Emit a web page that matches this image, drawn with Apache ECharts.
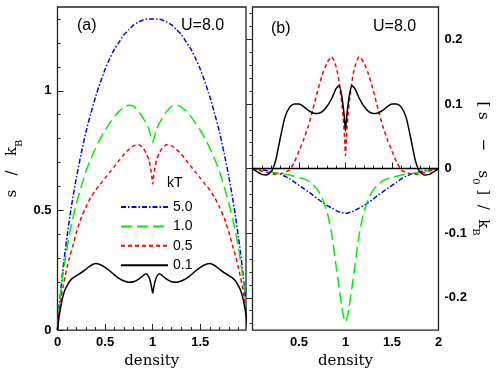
<!DOCTYPE html>
<html>
<head>
<meta charset="utf-8">
<script src="https://cdn.jsdelivr.net/npm/echarts@6/dist/echarts.min.js"></script>
<style>
html, body { margin: 0; padding: 0; background: #fff; }
#chart { width: 500px; height: 374px; }
</style>
</head>
<body>
<div id="chart"></div>
<script>
// ---- panel (a): s / kB vs density ----
const densityA = [0, 0.01, 0.02, 0.04, 0.06, 0.08, 0.1, 0.13, 0.16, 0.2, 0.25, 0.3, 0.35, 0.4, 0.45, 0.5,
  0.55, 0.6, 0.65, 0.7, 0.75, 0.8, 0.85, 0.9, 0.93, 0.96, 0.98, 0.99, 1.0,
  1.01, 1.02, 1.04, 1.07, 1.1, 1.15, 1.2, 1.25, 1.3, 1.35, 1.4, 1.45, 1.5, 1.55, 1.6, 1.65,
  1.7, 1.75, 1.8, 1.84, 1.87, 1.9, 1.92, 1.94, 1.96, 1.98, 1.99, 2.0];
const sA_50 = [0, 0.06, 0.11, 0.19, 0.265, 0.33, 0.39, 0.475, 0.55, 0.64, 0.74, 0.83, 0.905, 0.975, 1.035, 1.09,
  1.135, 1.175, 1.205, 1.235, 1.255, 1.275, 1.287, 1.296, 1.299, 1.30, 1.30, 1.30, 1.30,
  1.30, 1.30, 1.30, 1.299, 1.296, 1.287, 1.275, 1.255, 1.235, 1.205, 1.175, 1.135, 1.09, 1.035, 0.975, 0.905,
  0.83, 0.74, 0.64, 0.55, 0.475, 0.39, 0.33, 0.265, 0.19, 0.11, 0.06, 0];
const sA_10 = [0, 0.055, 0.10, 0.175, 0.24, 0.295, 0.345, 0.41, 0.465, 0.53, 0.60, 0.665, 0.715, 0.76, 0.80, 0.835,
  0.865, 0.893, 0.915, 0.933, 0.94, 0.935, 0.915, 0.885, 0.865, 0.84, 0.81, 0.797, 0.785,
  0.797, 0.81, 0.84, 0.865, 0.885, 0.915, 0.935, 0.94, 0.933, 0.915, 0.893, 0.865, 0.835, 0.80, 0.76, 0.715,
  0.665, 0.60, 0.53, 0.465, 0.41, 0.345, 0.295, 0.24, 0.175, 0.10, 0.055, 0];
const sA_05 = [0, 0.045, 0.08, 0.14, 0.185, 0.225, 0.26, 0.31, 0.35, 0.41, 0.47, 0.515, 0.555, 0.585, 0.61, 0.635,
  0.66, 0.685, 0.71, 0.735, 0.755, 0.77, 0.775, 0.76, 0.74, 0.71, 0.67, 0.645, 0.61,
  0.645, 0.67, 0.71, 0.74, 0.76, 0.775, 0.77, 0.755, 0.735, 0.71, 0.685, 0.66, 0.635, 0.61, 0.585, 0.555,
  0.515, 0.47, 0.41, 0.35, 0.31, 0.26, 0.225, 0.185, 0.14, 0.08, 0.045, 0];
const sA_01 = [0, 0.035, 0.065, 0.11, 0.145, 0.17, 0.185, 0.205, 0.217, 0.228, 0.24, 0.255, 0.27, 0.278, 0.273, 0.262,
  0.247, 0.23, 0.215, 0.205, 0.20, 0.202, 0.212, 0.228, 0.235, 0.222, 0.195, 0.175, 0.155,
  0.175, 0.195, 0.222, 0.235, 0.228, 0.212, 0.202, 0.20, 0.205, 0.215, 0.23, 0.247, 0.262, 0.273, 0.278, 0.27,
  0.255, 0.24, 0.228, 0.217, 0.205, 0.185, 0.17, 0.145, 0.11, 0.065, 0.035, 0];

// ---- panel (b): [s - s0] / kB vs density ----
const densityB = [0, 0.05, 0.1, 0.15, 0.2, 0.22, 0.25, 0.3, 0.35, 0.4, 0.45, 0.5, 0.55, 0.6, 0.65, 0.7, 0.75,
  0.8, 0.85, 0.9, 0.93, 0.96, 0.98, 0.99, 1.0,
  1.01, 1.02, 1.04, 1.07, 1.1, 1.15, 1.2, 1.25, 1.3, 1.35, 1.4, 1.45, 1.5, 1.55, 1.6, 1.65, 1.7, 1.75,
  1.78, 1.8, 1.85, 1.9, 1.95, 2.0];
const dsB_50 = [0, -0.001, -0.002, -0.003, -0.005, -0.006, -0.007, -0.009, -0.012, -0.016, -0.021, -0.026, -0.031,
  -0.036, -0.041, -0.047, -0.052, -0.057, -0.061, -0.065, -0.067, -0.068, -0.069, -0.069, -0.069,
  -0.069, -0.069, -0.068, -0.067, -0.065, -0.061, -0.057, -0.052, -0.047, -0.041, -0.036, -0.031, -0.026,
  -0.021, -0.016, -0.012, -0.009, -0.007, -0.006, -0.005, -0.003, -0.002, -0.001, 0];
const dsB_10 = [0, -0.001, -0.003, -0.004, -0.005, -0.006, -0.007, -0.008, -0.009, -0.01, -0.012, -0.014, -0.016,
  -0.019, -0.025, -0.033, -0.046, -0.066, -0.1, -0.152, -0.183, -0.213, -0.23, -0.235, -0.238,
  -0.235, -0.23, -0.213, -0.183, -0.152, -0.1, -0.066, -0.046, -0.033, -0.025, -0.019, -0.016, -0.014,
  -0.012, -0.01, -0.009, -0.008, -0.007, -0.006, -0.005, -0.004, -0.003, -0.001, 0];
const dsB_05 = [0, -0.002, -0.004, -0.006, -0.008, -0.009, -0.009, -0.008, -0.006, -0.002, 0.01, 0.027, 0.045,
  0.066, 0.092, 0.12, 0.145, 0.163, 0.173, 0.157, 0.135, 0.102, 0.07, 0.048, 0.02,
  0.048, 0.07, 0.102, 0.135, 0.157, 0.173, 0.163, 0.145, 0.12, 0.092, 0.066, 0.045, 0.027,
  0.01, -0.002, -0.006, -0.008, -0.009, -0.009, -0.008, -0.006, -0.004, -0.002, 0];
const dsB_01 = [0, -0.005, -0.009, -0.01, -0.005, 0, 0.013, 0.048, 0.08, 0.095, 0.1, 0.1, 0.096,
  0.09, 0.086, 0.085, 0.088, 0.096, 0.108, 0.124, 0.128, 0.112, 0.09, 0.075, 0.058,
  0.075, 0.09, 0.112, 0.128, 0.124, 0.108, 0.096, 0.088, 0.085, 0.086, 0.09, 0.096, 0.1,
  0.1, 0.095, 0.08, 0.048, 0.013, 0, -0.005, -0.01, -0.009, -0.005, 0];

const kTNames = ['5.0', '1.0', '0.5', '0.1'];

// ticks
const aXMajor = [0, 0.5, 1, 1.5];
const aXLabels = [0, 0.5, 1, 1.5];
const aXMinor = [0.1, 0.2, 0.3, 0.4, 0.6, 0.7, 0.8, 0.9, 1.1, 1.2, 1.3, 1.4, 1.6, 1.7, 1.8, 1.9];
const aYMajor = [0, 0.5, 1];
const aYMinor = [0.1, 0.2, 0.3, 0.4, 0.6, 0.7, 0.8, 0.9, 1.1, 1.2, 1.3];
const bXMajor = [0, 0.5, 1, 1.5, 2];
const bXLabels = [0.5, 1, 1.5, 2];
const bXMinor = [0.1, 0.2, 0.3, 0.4, 0.6, 0.7, 0.8, 0.9, 1.1, 1.2, 1.3, 1.4, 1.6, 1.7, 1.8, 1.9];
const bYMajor = [-0.2, -0.1, 0, 0.1, 0.2];
const bYMinor = [-0.24, -0.22, -0.18, -0.16, -0.14, -0.12, -0.08, -0.06, -0.04, -0.02,
  0.02, 0.04, 0.06, 0.08, 0.12, 0.14, 0.16, 0.18, 0.22, 0.24];

const styles = {
  '5.0': { color: '#0000ff', type: [5, 2, 1.5, 2] },
  '1.0': { color: '#00ee00', type: [11, 5] },
  '0.5': { color: '#ff0000', type: [4, 3] },
  '0.1': { color: '#000000', type: 'solid' }
};

function zip(xs, ys) {
  return xs.map((x, i) => [x, ys[i]]);
}

let labelFont = { fontFamily: 'Liberation Sans', fontWeight: 'bold', fontSize: 13, color: '#000' };
let nameFont = { fontFamily: 'DejaVu Serif', fontSize: 15, color: '#000' };
let tickLine = { color: '#222', width: 1 };
let richName = {
  t: { fontFamily: 'DejaVu Serif', fontSize: 15, color: '#000', lineHeight: 18 },
  s: { fontFamily: 'DejaVu Serif', fontSize: 10, color: '#000', verticalAlign: 'bottom', lineHeight: 12, padding: [0, 0, -3, 0] }
};

function axis(grid, pos, min, max, ticks, len, labels, extra) {
  let a = {
    gridIndex: grid,
    type: 'value',
    position: pos,
    min: min,
    max: max,
    axisLine: { show: false },
    splitLine: { show: false },
    axisTick: { show: true, inside: true, length: len, customValues: ticks, lineStyle: tickLine },
    axisLabel: { show: false }
  };
  if (labels) {
    a.axisLabel = Object.assign({ show: true, customValues: labels, margin: 6 }, labelFont);
  }
  return Object.assign(a, extra || {});
}

let myChart = echarts.init(document.getElementById('chart'), null, { renderer: 'canvas' });

let option = {
  animation: false,
  backgroundColor: '#fff',
  grid: [
    { left: 57.5, top: 7, width: 188.5, height: 325, show: true, borderColor: '#222', borderWidth: 1.3 },
    { left: 252.5, top: 7, width: 186, height: 325, show: true, borderColor: '#222', borderWidth: 1.3 }
  ],
  xAxis: [
    axis(0, 'bottom', 0, 1.98, aXMajor, 6, aXLabels, {
      name: 'density', nameLocation: 'middle', nameGap: 17, nameTextStyle: nameFont
    }),
    axis(0, 'bottom', 0, 1.98, aXMinor, 3),
    axis(1, 'bottom', 0, 2, bXMajor, 6, bXLabels, {
      name: 'density', nameLocation: 'middle', nameGap: 17, nameTextStyle: nameFont
    }),
    axis(1, 'bottom', 0, 2, bXMinor, 3)
  ],
  yAxis: [
    axis(0, 'left', 0, 1.35, aYMajor, 6, aYMajor, {
      name: '{t|s   /   k}{s|B}', nameLocation: 'middle', nameGap: 36,
      nameTextStyle: { rich: richName }
    }),
    axis(0, 'left', 0, 1.35, aYMinor, 3),
    axis(1, 'right', -0.25, 0.25, bYMajor, 6, bYMajor, {
      name: '{t|[ s    \u2212    s}{s|0}{t| ]  /  k}{s|B}', nameLocation: 'middle', nameGap: 34, nameRotate: -90,
      nameTextStyle: { rich: richName }
    }),
    axis(1, 'right', -0.25, 0.25, bYMinor, 3)
  ],
  legend: {
    data: kTNames,
    orient: 'vertical',
    left: 115,
    top: 195,
    itemWidth: 47,
    itemHeight: 14,
    itemGap: 5.4,
    selectedMode: false,
    itemStyle: { opacity: 0, borderWidth: 0 },
    textStyle: { fontFamily: 'Liberation Sans', fontSize: 14, color: '#000' }
  },
  graphic: [
    { type: 'text', left: 77, top: 18, style: { text: '(a)', fontFamily: 'Liberation Sans', fontSize: 16, fill: '#000' } },
    { type: 'text', left: 181, top: 18, style: { text: 'U=8.0', fontFamily: 'Liberation Sans', fontSize: 16, fill: '#000' } },
    { type: 'text', left: 271, top: 21, style: { text: '(b)', fontFamily: 'Liberation Sans', fontSize: 16, fill: '#000' } },
    { type: 'text', left: 373, top: 19, style: { text: 'U=8.0', fontFamily: 'Liberation Sans', fontSize: 16, fill: '#000' } },
    { type: 'text', left: 167, top: 176, style: { text: 'kT', fontFamily: 'Liberation Sans', fontSize: 14, fill: '#000' } }
  ],
  series: []
};

let dataA = { '5.0': sA_50, '1.0': sA_10, '0.5': sA_05, '0.1': sA_01 };
let dataB = { '5.0': dsB_50, '1.0': dsB_10, '0.5': dsB_05, '0.1': dsB_01 };

for (let i = 0; i < kTNames.length; i++) {
  let n = kTNames[i];
  option.series.push({
    name: n,
    type: 'line',
    xAxisIndex: 0,
    yAxisIndex: 0,
    symbol: 'none',
    smooth: 0.25,
    color: styles[n].color,
    lineStyle: { color: styles[n].color, width: 1.5, type: styles[n].type },
    data: zip(densityA, dataA[n])
  });
}
for (let i = 0; i < kTNames.length; i++) {
  let n = kTNames[i];
  let s = {
    name: n,
    type: 'line',
    xAxisIndex: 2,
    yAxisIndex: 2,
    symbol: 'none',
    smooth: 0.25,
    color: styles[n].color,
    lineStyle: { color: styles[n].color, width: 1.5, type: styles[n].type },
    data: zip(densityB, dataB[n])
  };
  if (n === '0.1') {
    s.markLine = {
      silent: true,
      symbol: 'none',
      label: { show: false },
      lineStyle: { color: '#000', width: 1.3, type: 'solid' },
      data: [{ yAxis: 0 }]
    };
  }
  option.series.push(s);
}

myChart.setOption(option, true);

window.addEventListener('resize', () => {
  myChart.resize();
});
</script>
</body>
</html>
